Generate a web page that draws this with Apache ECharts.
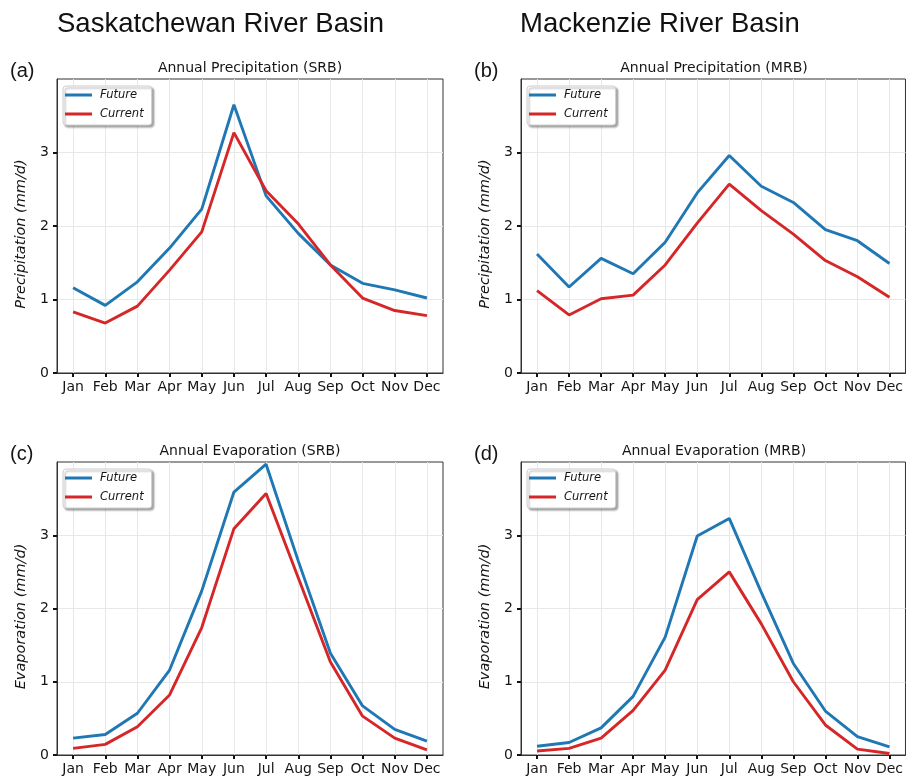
<!DOCTYPE html>
<html>
<head>
<meta charset="utf-8">
<script src="https://cdn.jsdelivr.net/npm/echarts@6/dist/echarts.min.js"></script>
<style>html,body{margin:0;padding:0;background:#fff;}#chart{width:906px;height:778px;}</style>
</head>
<body>
<div id="chart"></div>
<script>
const months = ['Jan','Feb','Mar','Apr','May','Jun','Jul','Aug','Sep','Oct','Nov','Dec'];
const yTicks = [0, 1, 2, 3];
const srbPrecipFuture  = [1.16, 0.92, 1.24, 1.70, 2.23, 3.65, 2.41, 1.90, 1.47, 1.22, 1.13, 1.02];
const srbPrecipCurrent = [0.83, 0.68, 0.91, 1.40, 1.92, 3.27, 2.48, 2.03, 1.47, 1.02, 0.85, 0.78];
const mrbPrecipFuture  = [1.62, 1.17, 1.56, 1.35, 1.78, 2.45, 2.96, 2.54, 2.32, 1.95, 1.80, 1.49];
const mrbPrecipCurrent = [1.12, 0.79, 1.01, 1.06, 1.47, 2.04, 2.57, 2.21, 1.89, 1.53, 1.31, 1.03];
const srbEvapFuture    = [0.23, 0.28, 0.57, 1.16, 2.24, 3.59, 3.97, 2.65, 1.39, 0.67, 0.35, 0.19];
const srbEvapCurrent   = [0.09, 0.145, 0.385, 0.82, 1.74, 3.09, 3.57, 2.42, 1.27, 0.53, 0.23, 0.07];
const mrbEvapFuture    = [0.12, 0.17, 0.37, 0.80, 1.61, 2.99, 3.23, 2.22, 1.25, 0.60, 0.25, 0.11];
const mrbEvapCurrent   = [0.055, 0.09, 0.23, 0.61, 1.16, 2.12, 2.50, 1.79, 1.00, 0.41, 0.08, 0.02];

const panels = [
  {title: 'Annual Precipitation (SRB)', tag: '(a)', yName: 'Precipitation (mm/d)', future: srbPrecipFuture, current: srbPrecipCurrent},
  {title: 'Annual Precipitation (MRB)', tag: '(b)', yName: 'Precipitation (mm/d)', future: mrbPrecipFuture, current: mrbPrecipCurrent},
  {title: 'Annual Evaporation (SRB)',   tag: '(c)', yName: 'Evaporation (mm/d)',   future: srbEvapFuture,   current: srbEvapCurrent},
  {title: 'Annual Evaporation (MRB)',   tag: '(d)', yName: 'Evaporation (mm/d)',   future: mrbEvapFuture,   current: mrbEvapCurrent}
];
const headers = ['Saskatchewan River Basin', 'Mackenzie River Basin'];

const layout = [
  {left: 57,  top: 79,  width: 386, height: 294},
  {left: 521, top: 79,  width: 386, height: 294},
  {left: 57,  top: 462, width: 386, height: 293},
  {left: 521, top: 462, width: 386, height: 293}
];
const BLUE = '#1f77b4', RED = '#d62728';
const FONT = 'DejaVu Sans';
const axisColor = '#333';
const gridColor = '#e8e8e8';
const textColor = '#151515';

const option = {
  animation: false,
  backgroundColor: '#fff',
  title: [],
  legend: [],
  grid: [],
  xAxis: [],
  yAxis: [],
  series: []
};

headers.forEach((h, i) => {
  option.title.push({
    text: h, left: i === 0 ? 57 : 520, top: 10, padding: 0,
    textStyle: {fontFamily: 'Liberation Sans', fontSize: 27.5, fontWeight: 'normal', color: '#111'}
  });
});

panels.forEach((p, i) => {
  const g = layout[i];
  option.grid.push({left: g.left, top: g.top, width: g.width, height: g.height, show: true,
    borderColor: axisColor, borderWidth: 1, backgroundColor: 'transparent'});
  option.title.push({
    text: p.title, left: g.left + g.width / 2, top: g.top - 18, textAlign: 'center', padding: 0,
    textStyle: {fontFamily: FONT, fontSize: 14, fontWeight: 'normal', color: textColor}
  });
  option.title.push({
    text: p.tag, left: g.left - 47, top: g.top - 18, padding: 0,
    textStyle: {fontFamily: 'Liberation Sans', fontSize: 20, fontWeight: 'normal', color: textColor}
  });
  option.xAxis.push({
    type: 'value', gridIndex: i, min: -0.5, max: 11.5,
    axisLine: {show: true, onZero: false, lineStyle: {color: axisColor, width: 1}},
    axisTick: {show: true, inside: false, length: 4, customValues: months.map((m, k) => k), lineStyle: {color: '#111', width: 2}},
    axisLabel: {customValues: months.map((m, k) => k), formatter: v => months[Math.round(v)], margin: 7,
      fontFamily: FONT, fontSize: 14, color: textColor},
    splitLine: {show: true, lineStyle: {color: gridColor, width: 1}}
  });
  option.yAxis.push({
    type: 'value', gridIndex: i, min: 0, max: 4,
    name: p.yName, nameLocation: 'middle', nameRotate: 90, nameGap: 28,
    nameTextStyle: {fontFamily: FONT, fontSize: 14.5, fontStyle: 'italic', color: textColor, padding: [0, 16, 0, 0]},
    axisLine: {show: true, onZero: false, lineStyle: {color: axisColor, width: 1}},
    axisTick: {show: true, inside: false, length: 4, customValues: yTicks, lineStyle: {color: '#111', width: 2}},
    axisLabel: {customValues: yTicks, margin: 8, fontFamily: FONT, fontSize: 14, color: textColor},
    splitLine: {show: true, lineStyle: {color: gridColor, width: 1}}
  });
  option.legend.push({
    orient: 'vertical', left: g.left + 6, top: g.top + 7,
    data: ['Future', 'Current'],
    icon: 'rect', itemWidth: 27, itemHeight: 3, itemGap: 7,
    padding: [3, 8, 5, 2],
    backgroundColor: '#fff', borderColor: '#cfcfcf', borderWidth: 1, borderRadius: 3,
    shadowColor: 'rgba(0,0,0,0.35)', shadowBlur: 2, shadowOffsetX: 2, shadowOffsetY: 2,
    selectedMode: false,
    textStyle: {fontFamily: FONT, fontSize: 11.5, fontStyle: 'italic', color: textColor, padding: [0, 0, 0, 3]}
  });
  [['Future', p.future, BLUE], ['Current', p.current, RED]].forEach(([name, vals, color]) => {
    option.series.push({
      type: 'line', name: name, xAxisIndex: i, yAxisIndex: i,
      data: vals.map((v, k) => [k, v]),
      symbol: 'none', color: color,
      lineStyle: {color: color, width: 2.9}, z: 3
    });
  });
});

const chart = echarts.init(document.getElementById('chart'), null, {renderer: 'canvas'});
chart.setOption(option);
</script>
</body>
</html>
